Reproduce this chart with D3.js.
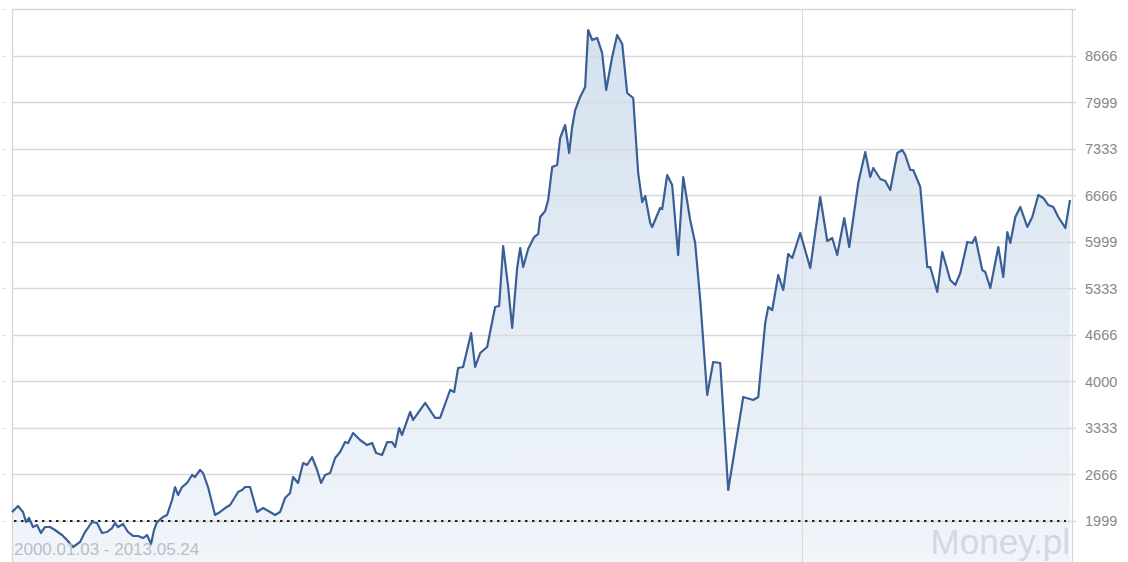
<!DOCTYPE html>
<html>
<head>
<meta charset="utf-8">
<script src="https://cdn.jsdelivr.net/npm/d3@7"></script>
<style>
html,body{margin:0;padding:0;background:#fff;}
svg{display:block;}
</style>
</head>
<body>
<svg id="chart" width="1128" height="562"></svg>
<script>
// ---- data (decimal year, index value) ----
const years = [
2000.005,2000.081,2000.144,2000.182,2000.220,2000.271,2000.321,2000.372,2000.423,2000.486,
2000.549,2000.638,2000.701,2000.777,2000.866,2000.929,2001.017,2001.081,2001.144,2001.207,
2001.271,2001.308,2001.346,2001.410,2001.473,2001.536,2001.600,2001.663,2001.713,2001.764,
2001.802,2001.840,2001.916,2001.967,2002.030,2002.068,2002.106,2002.156,2002.220,2002.283,
2002.321,2002.384,2002.422,2002.485,2002.574,2002.637,2002.701,2002.764,2002.827,2002.865,
2002.916,2002.954,2003.017,2003.105,2003.181,2003.270,2003.333,2003.397,2003.460,2003.523,
2003.561,2003.624,2003.688,2003.738,2003.802,2003.865,2003.915,2003.966,2004.029,2004.093,
2004.156,2004.219,2004.257,2004.320,2004.409,2004.498,2004.561,2004.611,2004.687,2004.751,
2004.814,2004.852,2004.902,2004.940,2005.042,2005.080,2005.232,2005.358,2005.421,2005.548,
2005.599,2005.649,2005.712,2005.814,2005.864,2005.928,2006.016,2006.117,2006.168,2006.219,
2006.282,2006.333,2006.396,2006.434,2006.472,2006.535,2006.611,2006.662,2006.687,2006.750,
2006.788,2006.839,2006.902,2006.940,2007.003,2007.054,2007.092,2007.130,2007.193,2007.256,
2007.294,2007.345,2007.408,2007.471,2007.522,2007.598,2007.661,2007.725,2007.788,2007.864,
2007.927,2007.978,2008.016,2008.079,2008.104,2008.205,2008.231,2008.294,2008.357,2008.433,
2008.497,2008.585,2008.648,2008.712,2008.800,2008.876,2008.965,2009.066,2009.256,2009.382,
2009.446,2009.534,2009.572,2009.623,2009.699,2009.762,2009.825,2009.876,2009.977,2010.104,
2010.230,2010.319,2010.382,2010.445,2010.534,2010.597,2010.711,2010.800,2010.863,2010.901,
2010.990,2011.053,2011.116,2011.205,2011.268,2011.306,2011.369,2011.407,2011.496,2011.584,
2011.622,2011.711,2011.774,2011.875,2011.939,2012.002,2012.091,2012.154,2012.192,2012.280,
2012.318,2012.382,2012.483,2012.546,2012.597,2012.635,2012.698,2012.761,2012.850,2012.913,
2012.989,2013.052,2013.116,2013.179,2013.242,2013.331,2013.390
];
const values = [
2120,2208,2122,1978,2036,1907,1935,1821,1907,1907,
1864,1792,1720,1620,1692,1835,1978,1964,1821,1835,
1892,1964,1907,1950,1835,1778,1778,1749,1792,1663,
1864,1978,2050,2079,2294,2480,2366,2480,2538,2652,
2624,2724,2681,2480,2079,2122,2179,2222,2337,2409,
2437,2480,2480,2122,2179,2122,2079,2122,2323,2394,
2624,2538,2824,2796,2910,2724,2538,2652,2681,2896,
2982,3125,3111,3254,3154,3082,3111,2968,2939,3125,
3125,3054,3326,3226,3556,3441,3685,3470,3470,3871,
3842,4186,4201,4688,4201,4401,4487,5061,5075,5935,
5348,4760,5620,5907,5634,5892,6064,6108,6351,6437,
6595,7068,7097,7484,7670,7269,7642,7885,8072,8215,
9032,8889,8918,8703,8172,8645,8961,8832,8129,8057,
6982,6566,6652,6265,6208,6480,6466,6953,6810,5806,
6925,6308,5978,5161,3799,4272,4258,2437,3771,3728,
3771,4832,5061,5018,5520,5305,5821,5764,6122,5620,
6638,6007,6050,5806,6337,5921,6839,7283,6925,7054,
6896,6867,6738,7269,7312,7240,7025,7025,6781,5634,
5634,5276,5850,5448,5376,5548,5993,5979,6064,5591,
5563,5333,5921,5491,6136,5979,6351,6495,6208,6351,
6667,6624,6523,6495,6351,6194,6595
];
const tickValues = [1999.99,2666.66,3333.33,4000,4666.66,5333.33,5999.99,6666.66,7333.33,7999.99,8666.66];
const tickLabels = ["1999","2666","3333","4000","4666","5333","5999","6666","7333","7999","8666"];
const topGrid = 9333.33;
const referenceLevel = 1993;
const yearLines = [2010.0];
const rangeText = "2000.01.03 - 2013.05.24";
const brand = "Money.pl";

// ---- layout ----
const W = 1128, H = 562;
const left = 12, right = 1072, lineEnd = 1070;
const svg = d3.select("#chart");

const x = d3.scaleLinear().domain([years[0], years[years.length-1]]).range([left, lineEnd]);
const y = d3.scaleLinear().domain([2000, 8666.67]).range([520.5, 55.5]);

const data = years.map((t,i)=>({t, v: values[i]}));

// gradient
const defs = svg.append("defs");
const grad = defs.append("linearGradient").attr("id","fillGrad")
  .attr("gradientUnits","userSpaceOnUse").attr("x1",0).attr("x2",0).attr("y1",30).attr("y2",H);
grad.append("stop").attr("offset","0").attr("stop-color","#d4e1ef");
grad.append("stop").attr("offset","0.5").attr("stop-color","#e3ebf5");
grad.append("stop").attr("offset","1").attr("stop-color","#f1f5fa");

// area
const area = d3.area().x(d=>x(d.t)).y0(H).y1(d=>y(d.v));
svg.append("path").datum(data).attr("d", area).attr("fill","url(#fillGrad)");

// horizontal grid
const gridVals = tickValues.concat([topGrid]);
svg.append("g").selectAll("line").data(gridVals).join("line")
  .attr("x1", left).attr("x2", right + 4)
  .attr("y1", d=>Math.round(y(d))+0.5).attr("y2", d=>Math.round(y(d))+0.5)
  .attr("stroke","#d9d9d9").attr("stroke-width",1.3);
// small left stubs
svg.append("g").selectAll("line").data(gridVals).join("line")
  .attr("x1", 2).attr("x2", 7)
  .attr("y1", d=>Math.round(y(d))+0.5).attr("y2", d=>Math.round(y(d))+0.5)
  .attr("stroke","#e4e4e4").attr("stroke-width",1);

// vertical year line(s)
svg.append("g").selectAll("line").data(yearLines).join("line")
  .attr("x1", d=>Math.round(x(d))+0.5).attr("x2", d=>Math.round(x(d))+0.5)
  .attr("y1", Math.round(y(topGrid))).attr("y2", H)
  .attr("stroke","#d9d9d9").attr("stroke-width",1.2);

// borders
svg.append("line").attr("x1",left+0.5).attr("x2",left+0.5).attr("y1",Math.round(y(topGrid))).attr("y2",H)
  .attr("stroke","#d6d6d6").attr("stroke-width",1.3);
svg.append("line").attr("x1",right+0.5).attr("x2",right+0.5).attr("y1",Math.round(y(topGrid))).attr("y2",H)
  .attr("stroke","#d6d6d6").attr("stroke-width",1.3);

// reference dotted line
svg.append("line").attr("x1",left+2).attr("x2",right-6)
  .attr("y1",y(referenceLevel)).attr("y2",y(referenceLevel))
  .attr("stroke","#222").attr("stroke-width",2).attr("stroke-dasharray","2.5,4.5");

// data line
const line = d3.line().x(d=>x(d.t)).y(d=>y(d.v));
svg.append("path").datum(data).attr("d", line)
  .attr("fill","none").attr("stroke","#3a5f96").attr("stroke-width",2.2)
  .attr("stroke-linejoin","round");

// y labels (right)
const yAxis = d3.axisRight(y).tickValues(tickValues).tickFormat((d,i)=>tickLabels[i]).tickSize(0).tickPadding(0);
const ag = svg.append("g").attr("transform",`translate(1085,0)`).call(yAxis);
ag.select(".domain").remove();
ag.selectAll("text").attr("fill","#888").attr("font-family","Liberation Sans, Arial, sans-serif")
  .attr("font-size","14.5px").attr("dy","0.35em");

// range text
svg.append("text").attr("x",14).attr("y",555).text(rangeText)
  .attr("font-family","Liberation Sans, Arial, sans-serif").attr("font-size","17px")
  .attr("fill","#b8bec7");

// watermark
svg.append("text").attr("x",1070).attr("y",554).attr("text-anchor","end").text(brand)
  .attr("font-family","Liberation Sans, Arial, sans-serif").attr("font-size","35px")
  .attr("fill","#cfd9e5");
</script>
</body>
</html>
